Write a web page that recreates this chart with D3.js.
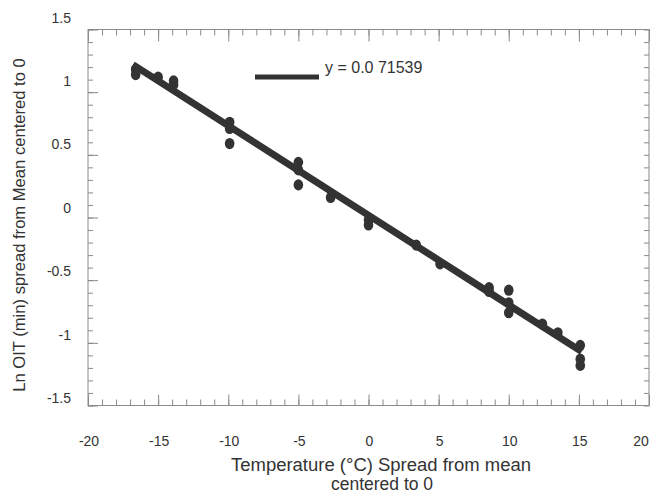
<!DOCTYPE html>
<html>
<head>
<meta charset="UTF-8">
<script src="https://cdn.jsdelivr.net/npm/d3@7/dist/d3.min.js"></script>
<style>
  body { margin: 0; background: #fff; }
  text { font-family: "Liberation Sans", Arial, sans-serif; fill: #333; }
  .frame path, .frame line { stroke: #8a8a8a; }
</style>
</head>
<body>
<script>
    // measured points (temperature spread, ln OIT spread)
    var tempX = [-16.6, -16.6, -15.0, -13.9, -13.9, -9.9, -9.9, -9.9, -5.0, -5.0, -5.0,
                 -2.7, 0.0, 0.0, 3.4, 5.1, 8.6, 8.6, 10.0, 10.0, 10.0, 12.4, 13.5, 15.1, 15.1, 15.1];
    var lnOIT = [1.18, 1.14, 1.12, 1.09, 1.06, 0.76, 0.71, 0.59, 0.44, 0.38, 0.26,
                 0.16, -0.02, -0.06, -0.22, -0.37, -0.56, -0.59, -0.58, -0.68, -0.76, -0.85, -0.92, -1.02, -1.13, -1.18];
    // fitted line end points
    var fitX = [-16.8, 15.2];
    var fitY = [1.22, -1.07];
    var xTicks = [-20, -15, -10, -5, 0, 5, 10, 15, 20];
    var yTicks = [-1.5, -1, -0.5, 0, 0.5, 1, 1.5];
    var legendText = "y = 0.0 71539";

    var width = 654, height = 495;
    var pad = { left: 88, right: 649, top: 29.5, bottom: 405.5 };
    var ink = "#333";

    var svg = d3.select("body").append("svg").attr("width", width).attr("height", height);

    var x = d3.scaleLinear().domain([-20, 20]).range([pad.left, pad.right]);
    var y = d3.scaleLinear().domain([-1.5, 1.5]).range([pad.bottom, pad.top]);
    // tick labels sit a little above their ticks in the original
    var yLab = d3.scaleLinear().domain([-1.5, 1.5]).range([398, 17.5]);

    var minorX = d3.range(-20, 21, 1);
    var minorY = d3.range(-15, 16, 1).map(function(d) { return d / 10; });

    function addAxis(axis, tr, vals, size) {
        svg.append("g").attr("class", "frame").attr("transform", tr)
            .call(axis.tickValues(vals).tickSize(size).tickFormat("").tickSizeOuter(0))
            .call(function(g) { g.select(".domain").remove(); });
    }
    // inward ticks on all four sides
    addAxis(d3.axisBottom(x), "translate(0," + pad.bottom + ")", minorX, -6);
    addAxis(d3.axisBottom(x), "translate(0," + pad.bottom + ")", xTicks, -11);
    addAxis(d3.axisTop(x), "translate(0," + pad.top + ")", minorX, -6);
    addAxis(d3.axisTop(x), "translate(0," + pad.top + ")", xTicks, -12);
    addAxis(d3.axisLeft(y), "translate(" + pad.left + ",0)", minorY, -5);
    addAxis(d3.axisLeft(y), "translate(" + pad.left + ",0)", yTicks, -10);
    addAxis(d3.axisRight(y), "translate(" + pad.right + ",0)", minorY, -5);

    svg.append("rect").attr("x", pad.left).attr("y", pad.top)
        .attr("width", pad.right - pad.left).attr("height", pad.bottom - pad.top)
        .attr("fill", "none").attr("stroke", "#8a8a8a").attr("stroke-width", 1);

    svg.selectAll(".xl").data(xTicks).enter().append("text")
        .attr("x", function(d) { return Math.min(x(d) + 1, 641); }).attr("y", 446)
        .attr("text-anchor", "middle").attr("font-size", "14px").text(function(d) { return d; });
    svg.selectAll(".yl").data(yTicks).enter().append("text")
        .attr("x", 71).attr("y", function(d) { return yLab(d) + 5; })
        .attr("text-anchor", "end").attr("font-size", "14px").text(function(d) { return d; });

    // fit line
    svg.append("line")
        .attr("x1", x(fitX[0])).attr("y1", y(fitY[0]))
        .attr("x2", x(fitX[1])).attr("y2", y(fitY[1]))
        .attr("stroke", ink).attr("stroke-width", 7);

    svg.selectAll(".pt").data(tempX).enter().append("ellipse")
        .attr("cx", function(d) { return x(d); })
        .attr("cy", function(d, i) { return y(lnOIT[i]); })
        .attr("rx", 4.8).attr("ry", 5.6).attr("fill", ink);

    // legend
    svg.append("line").attr("x1", 255).attr("x2", 319).attr("y1", 77).attr("y2", 77)
        .attr("stroke", ink).attr("stroke-width", 5);
    svg.append("text").attr("x", 325).attr("y", 73).attr("font-size", "16px").text(legendText);

    svg.append("text").attr("transform", "translate(25,225) rotate(-90)")
        .attr("text-anchor", "middle").attr("font-size", "16.6px")
        .text("Ln OIT (min) spread from Mean centered to 0");
    svg.append("text").attr("x", 381).attr("y", 471).attr("text-anchor", "middle")
        .attr("font-size", "17.5px").attr("textLength", 300).attr("lengthAdjust", "spacingAndGlyphs")
        .text("Temperature (°C) Spread from mean");
    svg.append("text").attr("x", 382).attr("y", 490).attr("text-anchor", "middle")
        .attr("font-size", "17.5px").text("centered to 0");
</script>
</body>
</html>
